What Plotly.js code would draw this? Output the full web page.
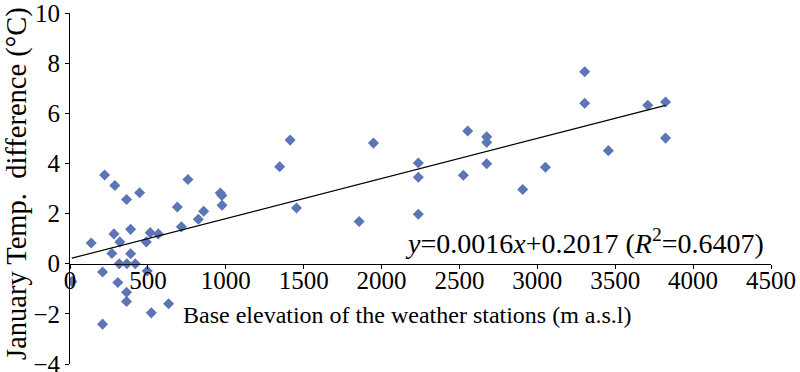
<!DOCTYPE html>
<html>
<head>
<meta charset="utf-8">
<script src="https://cdn.plot.ly/plotly-3.0.1.min.js"></script>
<style>
html,body{margin:0;padding:0;background:#fff;}
#chart{width:800px;height:372px;}
</style>
</head>
<body>
<div id="chart"></div>
<script>
// Base elevation of weather stations (m a.s.l)
const elevation = [12,136,222,209,209,288,282,269,320,316,307,363,389,389,365,419,363,363,447,490,515,496,522,567,633,689,715,757,824,858,965,975,976,1346,1413,1454,1856,1948,2236,2236,2236,2525,2553,2675,2675,2675,2906,3052,3304,3304,3456,3709,3823,3823];
// January temperature difference (°C)
const tempDiff = [-0.71,0.83,3.54,-0.33,-2.41,3.12,1.19,0.41,0.87,0.00,-0.75,2.56,1.37,0.40,0.00,0.00,-1.14,-1.51,2.83,0.87,1.24,-0.29,-1.96,1.19,-1.60,2.26,1.47,3.36,1.77,2.09,2.82,2.72,2.33,3.87,4.93,2.22,1.68,4.81,4.02,3.45,1.97,3.53,5.29,5.06,4.84,3.99,2.96,3.85,7.66,6.40,4.51,6.32,6.45,5.01];
// Linear fit reported on the chart
const slope = 0.0016;
const intercept = 0.2017;
const r2 = 0.6407;
const xTicks = [0,500,1000,1500,2000,2500,3000,3500,4000,4500];
const yTicks = [-4,-2,0,2,4,6,8,10];

const xMin = Math.min(...elevation), xMax = Math.max(...elevation);
const fitX = [xMin, xMax];
const fitY = fitX.map(v => slope * v + intercept);

const yRange = [yTicks[0], yTicks[yTicks.length-1]];
const xRange = [xTicks[0], xTicks[xTicks.length-1]];
const font = "Liberation Serif";

const traces = [
  {x: elevation, y: tempDiff, type: 'scatter', mode: 'markers',
   marker: {symbol: 'diamond', size: 8.5, color: '#5B75B6'}, hoverinfo: 'x+y'},
  {x: fitX, y: fitY, type: 'scatter', mode: 'lines',
   line: {color: '#000', width: 1.2}, hoverinfo: 'skip'}
];

const layout = {
  width: 800, height: 372,
  margin: {l: 70, r: 29, t: 13, b: 8},
  paper_bgcolor: '#fff', plot_bgcolor: '#fff',
  showlegend: false,
  font: {family: font, color: '#000', size: 25},
  xaxis: {
    range: xRange, tickvals: xTicks, ticktext: xTicks.map(String),
    anchor: 'free', position: (0 - yRange[0]) / (yRange[1] - yRange[0]),
    showline: true, linecolor: '#000', linewidth: 1,
    ticks: 'outside', ticklen: 4, tickcolor: '#000', tickwidth: 1,
    showgrid: false, zeroline: false, ticklabeloverflow: 'allow',
    ticklabelstandoff: -10,
    tickfont: {family: font, size: 25, color: '#000'}
  },
  yaxis: {
    range: yRange, tickvals: yTicks,
    showline: true, linecolor: '#000', linewidth: 1,
    ticks: 'outside', ticklen: 4, tickcolor: '#000', tickwidth: 1,
    showgrid: false, zeroline: false, ticklabeloverflow: 'allow',
    tickfont: {family: font, size: 25, color: '#000'}
  },
  annotations: [
    {text: 'Base elevation of the weather stations (m a.s.l)', xref: 'paper', yref: 'paper',
     x: 0.159, y: 0.139, xanchor: 'left', yanchor: 'middle', showarrow: false,
     font: {family: font, size: 24, color: '#000'}},
    {text: 'January Temp.\u00A0 difference (°C)', xref: 'paper', yref: 'paper',
     x: -0.0756, y: 0.513, xanchor: 'center', yanchor: 'middle', textangle: -90, showarrow: false,
     font: {family: font, size: 28.5, color: '#000'}},
    {text: '<i>y</i>=' + slope.toFixed(4) + '<i>x</i>+' + intercept.toFixed(4) + ' (<i>R</i><sup>2</sup>=' + r2.toFixed(4) + ')',
     xref: 'paper', yref: 'paper', x: 0.475, y: 0.35, xanchor: 'left', yanchor: 'middle', showarrow: false,
     font: {family: font, size: 28, color: '#000'}}
  ]
};

Plotly.newPlot('chart', traces, layout, {displayModeBar: false, staticPlot: true});
</script>
</body>
</html>
